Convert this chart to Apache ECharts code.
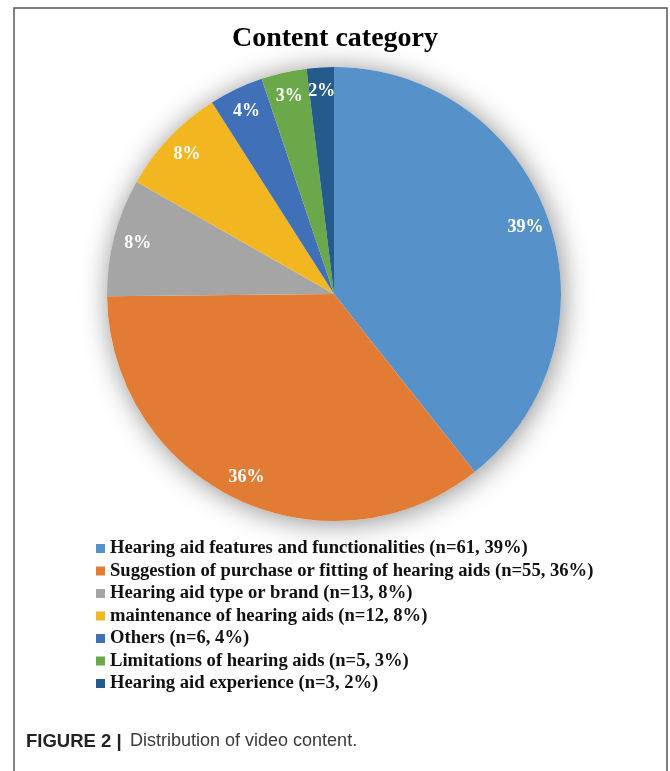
<!DOCTYPE html>
<html>
<head>
<meta charset="utf-8">
<script src="https://cdn.jsdelivr.net/npm/echarts@6/dist/echarts.min.js"></script>
<style>
html,body{margin:0;padding:0;background:#fff;}
#chart{width:670px;height:771px;}
</style>
</head>
<body>
<div id="chart"></div>
<script>
const categories = [
  "Hearing aid features and functionalities",
  "Suggestion of purchase or fitting of hearing aids",
  "Hearing aid type or brand",
  "maintenance of hearing aids",
  "Others",
  "Limitations of hearing aids",
  "Hearing aid experience"
];
const counts = [61, 55, 13, 12, 6, 5, 3];
const percents = ["39%", "36%", "8%", "8%", "4%", "3%", "2%"];
const colors = ["#5692C9", "#E27B34", "#A5A5A5", "#F2B720", "#4070B8", "#6BA84A", "#245B8C"];

const serif = "'Liberation Serif','Times New Roman',serif";
const chart = echarts.init(document.getElementById('chart'));

const pieData = categories.map((c, i) => ({ name: c, value: counts[i], itemStyle: { color: colors[i] } }));
const labelData = categories.map((c, i) => ({ name: c + "_lbl", value: counts[i], pct: percents[i] }));
const legendText = {};
categories.forEach((c, i) => { legendText[c] = c + " (n=" + counts[i] + ", " + percents[i] + ")"; });

const CX = 334, CY = 294, R = 227;

chart.setOption({
  animation: false,
  color: colors,
  title: {
    text: "Content category",
    left: 'center',
    top: 20,
    textStyle: { fontFamily: serif, fontWeight: 'bold', fontSize: 28, color: '#000' }
  },
  legend: {
    orient: 'vertical',
    left: 91,
    top: 534,
    data: categories,
    icon: 'rect',
    itemWidth: 9,
    itemHeight: 9,
    itemGap: 3.5,
    itemTextGap: 5,
    selectedMode: false,
    formatter: n => legendText[n],
    textStyle: { fontFamily: serif, fontWeight: 'bold', fontSize: 18.6, color: '#111', lineHeight: 18 }
  },
  graphic: [
    { type: 'rect', shape: { x: 14, y: 8, width: 653, height: 800 }, style: { fill: 'none', stroke: '#555', lineWidth: 1.5 }, silent: true },
    { type: 'text', left: 26, top: 732, style: { text: 'FIGURE 2 |', font: "bold 18.5px 'Liberation Sans', Arial, sans-serif", fill: '#222' } },
    { type: 'text', left: 130, top: 732, style: { text: 'Distribution of video content.', font: "18px 'Liberation Sans', Arial, sans-serif", fill: '#3a3a3a' } }
  ],
  series: [
    {
      type: 'pie', silent: true, center: [CX, CY], radius: R, z: 1,
      label: { show: false }, labelLine: { show: false },
      data: [{ value: 1, itemStyle: { color: '#fff', shadowBlur: 28, shadowColor: 'rgba(0,0,0,0.45)', shadowOffsetX: 2, shadowOffsetY: 2 } }]
    },
    {
      type: 'pie', center: [CX, CY], radius: R, startAngle: 90, clockwise: true, z: 2,
      label: { show: false }, labelLine: { show: false },
      itemStyle: { borderWidth: 0 },
      data: pieData
    },
    {
      type: 'pie', silent: true, center: [CX, CY], radius: [R * 0.76, R], startAngle: 90, clockwise: true, z: 3,
      itemStyle: { color: 'rgba(0,0,0,0)' },
      labelLine: { show: false },
      label: {
        show: true, position: 'inside',
        formatter: p => p.data.pct,
        fontFamily: serif, fontWeight: 'bold', fontSize: 18, color: '#fff'
      },
      data: labelData
    }
  ]
});
</script>
</body>
</html>
